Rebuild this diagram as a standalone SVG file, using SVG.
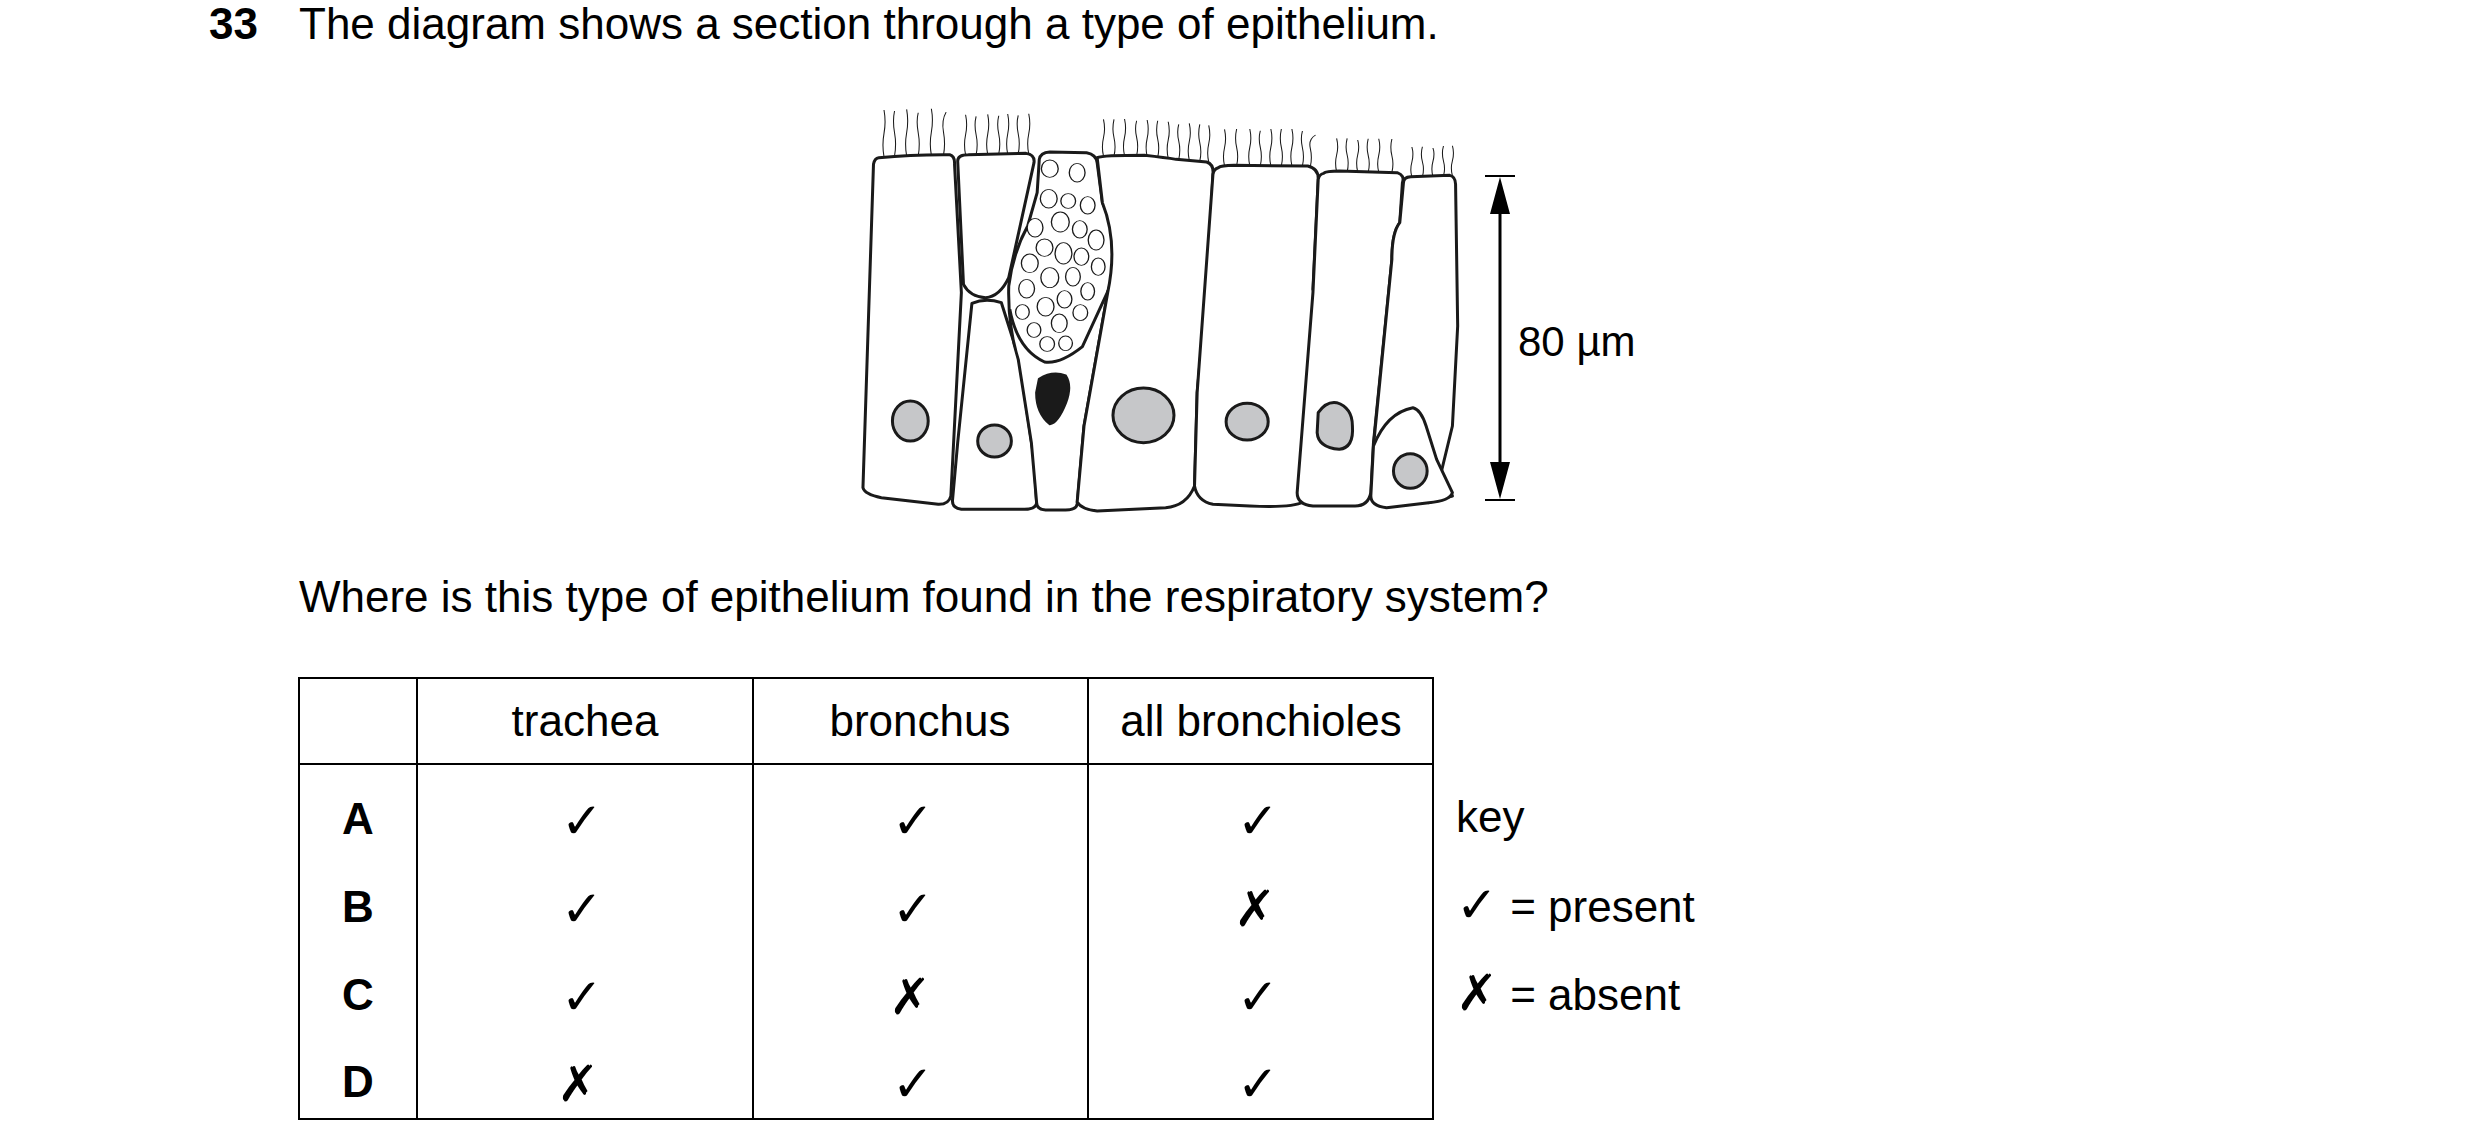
<svg xmlns="http://www.w3.org/2000/svg" width="2480" height="1148" viewBox="0 0 2480 1148">
<style>
text{font-family:"Liberation Sans",Arial,sans-serif;font-size:44px;fill:#000}
.b{font-weight:bold}
.m{text-anchor:middle}
.sym{font-family:"DejaVu Sans",sans-serif;font-size:50px;font-weight:bold}
.c{fill:#fff;stroke:#1a1a1a;stroke-width:3;vector-effect:non-scaling-stroke;stroke-linejoin:round}
.l{fill:none;stroke:#1a1a1a;stroke-width:3;vector-effect:non-scaling-stroke}
.cil{fill:none;stroke:#1a1a1a;stroke-width:2;vector-effect:non-scaling-stroke}
.n{fill:#c6c7c9;stroke:#1a1a1a;stroke-width:3;vector-effect:non-scaling-stroke}
.v{fill:#fff;stroke:#1a1a1a;stroke-width:2.5;vector-effect:non-scaling-stroke}
.t{stroke:#000;stroke-width:2;fill:none}
</style>
<rect width="2480" height="1148" fill="#fff"/>
<text class="b" x="209" y="39">33</text>
<text x="299" y="39">The diagram shows a section through a type of epithelium.</text>

<g id="epithelium" transform="matrix(0.5263 0 0 0.3333 849.8 92.7)">
<g id="cilia" class="cil">
<path d="M65,192 q-4,-35 0,-70 t0,-70 M85,190 q4,-35 0,-70 t0,-65 M108,190 q-4,-35 0,-70 t0,-70 M130,190 q4,-35 0,-70 t0,-60 M155,188 q-4,-35 0,-70 t0,-70 M178,188 q4,-35 0,-70 t5,-60"/>
<path d="M220,186 q-4,-30 0,-60 t0,-60 M240,186 q4,-30 0,-60 t0,-55 M262,185 q-4,-30 0,-60 t0,-60 M283,184 q4,-30 0,-60 t0,-55 M300,184 q-4,-30 0,-60 t0,-60 M320,183 q4,-30 0,-60 t0,-55 M340,183 q-4,-30 0,-60 t0,-60"/>
<path d="M482,190 q-4,-28 0,-55 t0,-55 M502,190 q4,-28 0,-55 t0,-55 M522,189 q-4,-28 0,-55 t0,-55 M545,189 q4,-28 0,-55 t0,-50 M565,192 q-4,-28 0,-55 t0,-55 M585,194 q4,-28 0,-55 t0,-55 M605,197 q-4,-28 0,-55 t0,-55 M625,200 q4,-28 0,-55 t0,-50 M645,202 q-4,-28 0,-55 t0,-55 M665,205 q4,-28 0,-55 t0,-55 M682,208 q-4,-28 0,-55 t0,-55"/>
<path d="M712,220 q-4,-28 0,-55 t0,-55 M735,219 q4,-28 0,-55 t0,-55 M760,219 q-4,-28 0,-55 t0,-55 M780,219 q4,-28 0,-55 t0,-50 M800,219 q-4,-28 0,-55 t0,-55 M820,219 q4,-28 0,-55 t0,-55 M840,219 q-4,-28 0,-55 t0,-55 M860,220 q4,-28 0,-55 t0,-50 M875,222 q4,-28 0,-55 t10,-40"/>
<path d="M925,237 q-4,-25 0,-50 t0,-50 M945,237 q4,-25 0,-50 t0,-50 M965,237 q-4,-25 0,-50 t0,-45 M985,238 q4,-25 0,-50 t0,-50 M1005,238 q-4,-25 0,-50 t0,-50 M1030,239 q4,-25 0,-50 t0,-50"/>
<path d="M1068,253 q-4,-22 0,-45 t0,-45 M1088,252 q4,-22 0,-45 t0,-45 M1108,251 q-4,-22 0,-45 t0,-40 M1128,250 q4,-22 0,-45 t0,-45 M1145,249 q-4,-22 0,-45 t0,-45"/>
</g>
<g id="cell1"><path class="c" d="M55,195 Q120,185 190,186 Q200,190 199,215 L212,600 L192,1210 Q188,1236 168,1235 L60,1215 Q28,1205 25,1185 L45,215 Q47,196 55,195 Z"/><ellipse class="n" cx="115" cy="985" rx="34" ry="60"/></g>
<g id="cell2"><path class="c" d="M205,205 Q205,186 225,186 L335,182 Q352,186 350,210 L302,555 Q285,612 258,615 Q228,612 216,575 Z"/></g>
<g id="cell3"><path class="c" d="M232,632 Q258,615 288,630 L322,800 L350,1100 L355,1232 Q352,1250 332,1250 L212,1250 Q195,1246 195,1225 L205,1050 Z"/><ellipse class="n" cx="275" cy="1045" rx="32" ry="48"/></g>
<g id="goblet"><path class="c" d="M380,178 L450,180 Q468,185 470,210 L480,330 Q500,400 510,450 Q502,540 490,600 L445,1000 L432,1235 Q430,1252 410,1252 L372,1252 Q355,1250 355,1230 L345,1050 L320,800 Q300,700 302,580 Q310,480 338,400 L356,300 L360,200 Q362,180 380,178 Z"/>
<path class="l" d="M304,650 Q318,770 370,808 Q400,815 442,762 L492,590"/>
<g class="v"><ellipse cx="380" cy="228" rx="16" ry="26"/><ellipse cx="432" cy="240" rx="15" ry="28"/><ellipse cx="378" cy="318" rx="16" ry="28"/><ellipse cx="415" cy="325" rx="14" ry="22"/><ellipse cx="452" cy="338" rx="14" ry="26"/><ellipse cx="352" cy="405" rx="15" ry="28"/><ellipse cx="400" cy="388" rx="17" ry="30"/><ellipse cx="437" cy="410" rx="14" ry="26"/><ellipse cx="468" cy="442" rx="15" ry="30"/><ellipse cx="370" cy="465" rx="16" ry="26"/><ellipse cx="406" cy="482" rx="16" ry="32"/><ellipse cx="440" cy="492" rx="14" ry="26"/><ellipse cx="472" cy="522" rx="13" ry="26"/><ellipse cx="342" cy="512" rx="16" ry="28"/><ellipse cx="380" cy="555" rx="17" ry="30"/><ellipse cx="424" cy="552" rx="14" ry="28"/><ellipse cx="452" cy="596" rx="13" ry="26"/><ellipse cx="336" cy="588" rx="15" ry="28"/><ellipse cx="372" cy="642" rx="16" ry="28"/><ellipse cx="408" cy="620" rx="14" ry="26"/><ellipse cx="438" cy="660" rx="14" ry="24"/><ellipse cx="328" cy="658" rx="13" ry="22"/><ellipse cx="398" cy="692" rx="15" ry="28"/><ellipse cx="350" cy="712" rx="13" ry="22"/><ellipse cx="375" cy="754" rx="14" ry="22"/><ellipse cx="410" cy="752" rx="13" ry="22"/></g>
<path d="M360,860 Q385,835 410,850 Q422,880 410,930 Q395,990 380,993 Q355,960 355,900 Z" fill="#1a1a1a" stroke="#1a1a1a" stroke-width="3" vector-effect="non-scaling-stroke"/></g>
<g id="cell4"><path class="c" d="M470,195 Q480,188 560,188 Q600,195 620,200 L678,208 Q692,215 690,245 L680,560 L660,900 L655,1180 Q640,1240 600,1245 L470,1255 Q440,1250 432,1228 L445,1000 L490,600 Q510,450 480,330 Z"/><ellipse class="n" cx="558" cy="968" rx="58" ry="82"/></g>
<g id="cell5"><path class="c" d="M700,225 Q705,219 730,218 L870,220 Q891,228 890,260 L880,590 Q890,620 882,700 L855,1180 L862,1228 Q840,1246 760,1240 L690,1235 Q660,1225 655,1180 L660,900 L690,245 Q692,228 700,225 Z"/><ellipse class="n" cx="755" cy="987" rx="40" ry="55"/></g>
<g id="cell6"><path class="c" d="M900,242 Q905,235 930,235 L1040,240 Q1055,248 1050,270 L1045,390 Q1030,420 1030,500 L995,1050 L990,1200 Q985,1240 960,1240 L880,1240 Q850,1235 850,1200 L860,1000 L880,600 L890,260 Q892,245 900,242 Z"/><path class="n" d="M890,960 Q905,925 925,930 Q955,945 955,1000 Q958,1065 930,1070 Q890,1065 888,1020 Z"/></g>
<g id="cell7"><path class="c" d="M1052,270 Q1052,253 1066,252 L1140,248 Q1151,252 1151,275 L1155,700 L1145,1000 L1122,1150 Q1140,1185 1145,1210 L1100,1230 L995,1060 L1030,500 Q1030,420 1045,390 Z"/></g>
<g id="cell8"><path class="c" d="M995,1060 Q1020,960 1070,945 Q1085,950 1095,1000 L1115,1100 Q1130,1150 1145,1200 Q1140,1225 1100,1230 L1020,1245 Q990,1240 990,1210 Z"/><ellipse class="n" cx="1065" cy="1135" rx="32" ry="52"/></g>
</g>

<g id="scalebar">
<line class="t" x1="1485" y1="176" x2="1515" y2="176"/><line class="t" x1="1485" y1="500" x2="1515" y2="500"/>
<line x1="1500" y1="200" x2="1500" y2="476" stroke="#000" stroke-width="3"/>
<path d="M1500,177 L1490,214 L1510,214 Z M1500,499 L1490,462 L1510,462 Z" fill="#000"/>
<text x="1518" y="356" style="font-size:42px">80 µm</text>
</g>

<text x="299" y="612">Where is this type of epithelium found in the respiratory system?</text>

<g id="table">
<rect x="299" y="678" width="1134" height="441" class="t"/>
<line class="t" x1="299" y1="764" x2="1433" y2="764"/>
<line class="t" x1="417" y1="678" x2="417" y2="1119"/>
<line class="t" x1="753" y1="678" x2="753" y2="1119"/>
<line class="t" x1="1088" y1="678" x2="1088" y2="1119"/>
<text class="m" x="585" y="736">trachea</text>
<text class="m" x="920" y="736">bronchus</text>
<text class="m" x="1261" y="736">all bronchioles</text>
<text class="b m" x="358" y="834">A</text>
<text class="b m" x="358" y="922">B</text>
<text class="b m" x="358" y="1010">C</text>
<text class="b m" x="358" y="1097">D</text>
<text class="sym m" x="582" y="838">✓</text><text class="sym m" x="913" y="838">✓</text><text class="sym m" x="1258" y="838">✓</text>
<text class="sym m" x="582" y="926">✓</text><text class="sym m" x="913" y="926">✓</text><text class="sym m" x="1255" y="926">✗</text>
<text class="sym m" x="582" y="1014">✓</text><text class="sym m" x="910" y="1014">✗</text><text class="sym m" x="1258" y="1014">✓</text>
<text class="sym m" x="578" y="1101">✗</text><text class="sym m" x="913" y="1101">✓</text><text class="sym m" x="1258" y="1101">✓</text>
</g>
<g id="key">
<text x="1456" y="832">key</text>
<text x="1456" y="922"><tspan class="sym">✓</tspan> = present</text>
<text x="1456" y="1010"><tspan class="sym">✗</tspan> = absent</text>
</g>
</svg>
